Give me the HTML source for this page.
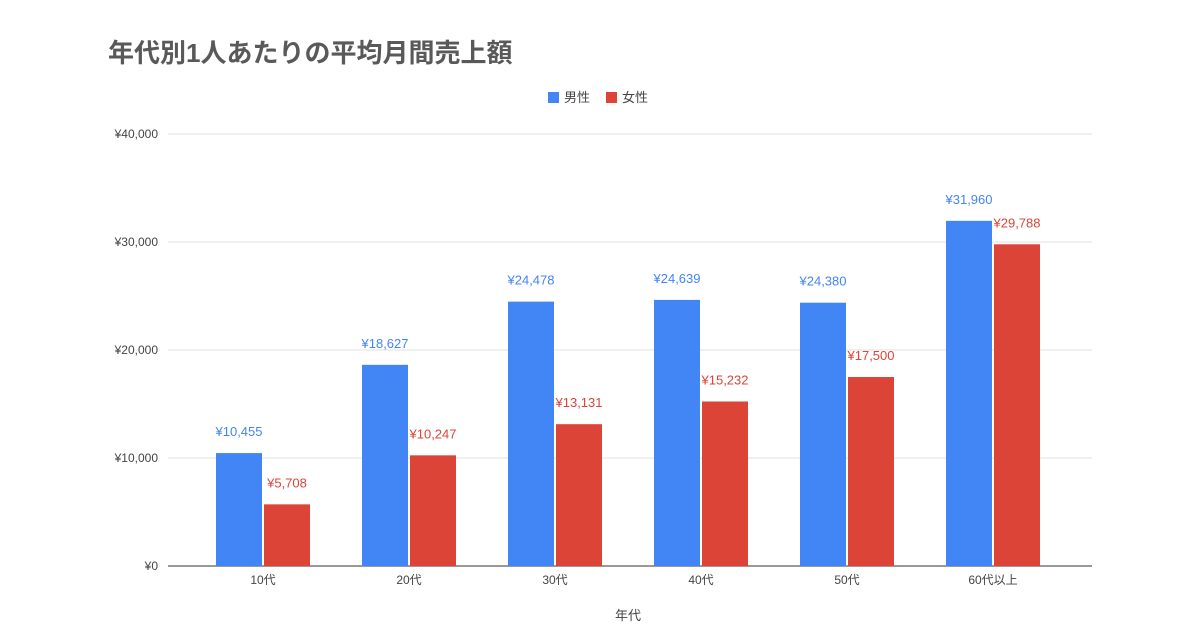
<!DOCTYPE html>
<html><head><meta charset="utf-8"><style>
body{margin:0;background:#fff;}
svg{display:block;font-family:"Liberation Sans","Noto Sans CJK JP",sans-serif;}
</style></head><body>
<svg id="chart" width="1200" height="630">
<text x="108" y="62" font-size="26" font-weight="bold" fill="#595959">年代別1人あたりの平均月間売上額</text>
<g>
<rect x="548" y="92" width="11" height="11" fill="#4285f4"/>
<text x="564" y="102" font-size="13" fill="#444">男性</text>
<rect x="606" y="92" width="11" height="11" fill="#db4437"/>
<text x="622" y="102" font-size="13" fill="#444">女性</text>
</g>
<g id="grid"></g>
<g id="bars"></g>
<text x="628" y="620" font-size="13" fill="#444" text-anchor="middle">年代</text>
</svg>
<script>
const categories=["10代","20代","30代","40代","50代","60代以上"];
const male=[10455,18627,24478,24639,24380,31960];
const female=[5708,10247,13131,15232,17500,29788];
const yTicks=[0,10000,20000,30000,40000];
const NS="http://www.w3.org/2000/svg";
const y0=566,pxPer=108/10000,left=190,step=146;
const y=v=>y0-v*pxPer;
const xc=i=>left+step*i+step/2;
const fmt=v=>"¥"+v.toLocaleString("en-US");
function mk(tag,attrs,parent,text){const e=document.createElementNS(NS,tag);for(const k in attrs)e.setAttribute(k,attrs[k]);if(text!==undefined)e.textContent=text;parent.appendChild(e);return e;}
const grid=document.getElementById("grid"),bars=document.getElementById("bars");
yTicks.forEach(t=>{
 const l=mk("line",{x1:168,x2:1092,y1:y(t),y2:y(t),stroke:t===0?"#333":"#e0e0e0","stroke-width":1},grid);
 
 
 const tx=mk("text",{x:158,y:y(t)+4,"font-size":12,fill:"#444","text-anchor":"end"},grid,fmt(t));
 
 
});
categories.forEach((c,i)=>{
 const cx=xc(i);
 const b1=mk("rect",{x:cx-47,y:y(male[i]),width:46,height:male[i]*pxPer,fill:"#4285f4"},bars);
 
 
 const b2=mk("rect",{x:cx+1,y:y(female[i]),width:46,height:female[i]*pxPer,fill:"#db4437"},bars);
 
 
 const l1=mk("text",{x:cx-24,y:y(male[i])-17,"font-size":13,fill:"#4285f4","text-anchor":"middle"},bars,fmt(male[i]));
 
 
 const l2=mk("text",{x:cx+24,y:y(female[i])-17,"font-size":13,fill:"#db4437","text-anchor":"middle"},bars,fmt(female[i]));
 
 
 const xl=mk("text",{x:cx,y:584,"font-size":12,fill:"#444","text-anchor":"middle"},bars,c);
 
 
});
</script>
</body></html>
